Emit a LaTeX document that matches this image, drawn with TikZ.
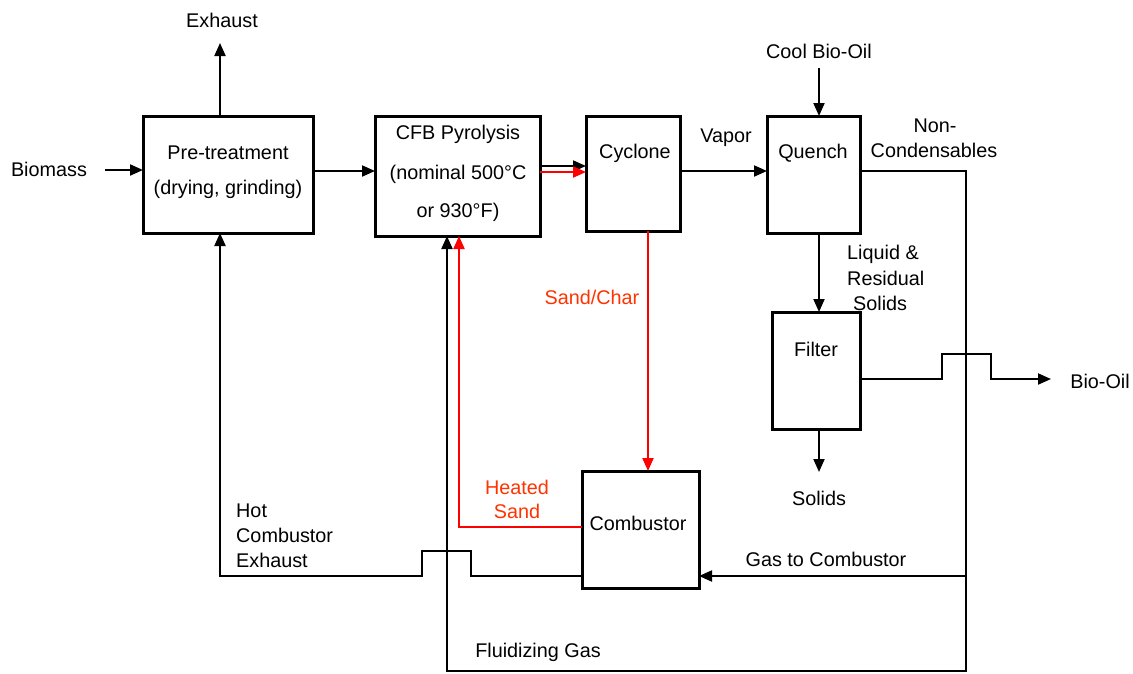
\documentclass[tikz,border=0pt]{standalone}
\usepackage{fontspec}
\setmainfont{Liberation Sans}
\usetikzlibrary{arrows.meta,calc}
\definecolor{redline}{RGB}{255,0,0}
\definecolor{redtext}{RGB}{255,51,0}
\begin{document}
\begin{tikzpicture}[x=1pt,y=-1pt,
  font=\fontsize{19.8}{24}\selectfont,
  box/.style={draw, line width=3pt, inner sep=0pt, outer sep=0pt, rectangle},
  conn/.style={line width=2pt},
  arr/.style={conn, -{Triangle[length=13pt,width=11pt]}},
  rconn/.style={conn, draw=redline},
  rarr/.style={arr, draw=redline},
  lbl/.style={inner sep=0pt, anchor=center},
  llbl/.style={inner sep=0pt, anchor=west},
  rlbl/.style={lbl, text=redtext}]
\useasboundingbox (0,0) rectangle (1133,673);
\fill[white] (0,0) rectangle (1133,673);

% boxes
\node[box, minimum width=170pt, minimum height=117pt] (pre) at (228,174.5) {};
\node[box, minimum width=165pt, minimum height=120pt] (cfb) at (457.5,176) {};
\node[box, minimum width=94pt, minimum height=115pt] (cyc) at (633,173.5) {};
\node[box, minimum width=93pt, minimum height=117pt] (qu) at (813.5,174.5) {};
\node[box, minimum width=88pt, minimum height=117pt] (fil) at (816,370.5) {};
\node[box, minimum width=117pt, minimum height=117pt] (comb) at (640.5,529.5) {};

% box texts
\node[lbl] (preT1) at (228,153) {Pre-treatment};
\node[lbl] (preT2) at (228,189) {(drying, grinding)};
\node[lbl] (cfbT1) at (458,134) {CFB Pyrolysis};
\node[lbl] (cfbT2) at (458,174) {(nominal 500°C};
\node[lbl] (cfbT3) at (458,212) {or 930°F)};
\node[lbl] (cycT) at (635,153) {Cyclone};
\node[lbl] (quT) at (813,153) {Quench};
\node[lbl] (filT) at (816,349) {Filter};
\node[lbl] (combT) at (638,523) {Combustor};

% free labels
\node[lbl] (exhT) at (222,20) {Exhaust};
\node[lbl] (bioT) at (49,169) {Biomass};
\node[lbl] (vapT) at (726,138) {Vapor};
\node[lbl] (cboT) at (819,51) {Cool Bio-Oil};
\node[lbl] (ncT1) at (935,126) {Non-};
\node[lbl] (ncT2) at (934,150) {Condensables};
\node[llbl] (lrT1) at (847,254) {Liquid \&};
\node[llbl] (lrT2) at (847,278) {Residual};
\node[llbl] (lrT3) at (853,303) {Solids};
\node[lbl] (boT) at (1100,381) {Bio-Oil};
\node[lbl] (solT) at (819,498) {Solids};
\node[rlbl] (scT) at (592,297) {Sand/Char};
\node[rlbl] (hsT1) at (517,487) {Heated};
\node[rlbl] (hsT2) at (517,511) {Sand};
\node[llbl] (hcT1) at (236,511) {Hot};
\node[llbl] (hcT2) at (236,535) {Combustor};
\node[llbl] (hcT3) at (236,560) {Exhaust};
\node[lbl] (gcT) at (826,559) {Gas to Combustor};
\node[lbl] (fgT) at (538,652) {Fluidizing Gas};

% coordinates
\coordinate (bioS) at (105,170);
\coordinate (exE) at (220,43);
\coordinate (cboS) at (819,68);
\coordinate (nc) at (966,171);
\coordinate (ncB) at (966,671);
\coordinate (fgC) at (447,671);
\coordinate (gc) at (966,576);
\coordinate (b1) at (942,379);
\coordinate (b2) at (991,379);
\coordinate (boE) at (1051,379);
\coordinate (solE) at (819,472);
\coordinate (scX) at (648,0);
\coordinate (hsC) at (459,527);
\coordinate (hx1) at (471,576);
\coordinate (hx2) at (422,576);
\coordinate (hxC) at (220,576);

% connectors
\draw[arr] (bioS) -- (bioS -| pre.west);
\draw[arr] (exE |- pre.north) -- (exE);
\draw[arr] ([yshift=3.5pt]pre.east) -- ([yshift=3.5pt]pre.east -| cfb.west);
\draw[arr] ([yshift=10pt]cfb.east) -- ([yshift=10pt]cfb.east -| cyc.west);
\draw[rarr] ([yshift=4pt]cfb.east) -- ([yshift=4pt]cfb.east -| cyc.west);
\draw[arr] ([yshift=2.5pt]cyc.east) -- ([yshift=2.5pt]cyc.east -| qu.west);
\draw[arr] (cboS) -- (cboS |- qu.north);
\draw[arr] (qu.east |- nc) -- (nc) -- (ncB) -- (fgC) -- (fgC |- cfb.south);
\draw[arr] (gc) -- (gc -| comb.east);
\draw[arr] (cboS |- qu.south) -- (cboS |- fil.north);
\draw[arr] (fil.east |- b1) -- (b1) -- ++(0,-25) -| (b2) -- (boE);
\draw[arr] (cboS |- fil.south) -- (solE);
\draw[rarr] (scX |- cyc.south) -- (scX |- comb.north);
\draw[rarr] (comb.west |- hsC) -- (hsC) -- (hsC |- cfb.south);
\draw[arr] (comb.west |- hx1) -- (hx1) -- ++(0,-25) -| (hx2) -- (hxC) -- (hxC |- pre.south);
\end{tikzpicture}
\end{document}
